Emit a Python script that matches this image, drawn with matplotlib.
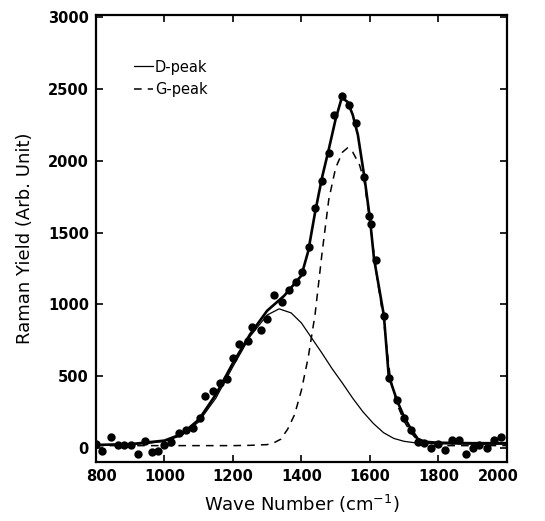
import matplotlib
matplotlib.use("Agg")
import matplotlib.pyplot as plt
from matplotlib.transforms import ScaledTranslation

# measured Raman data points
data_x = [799, 818, 843, 864, 883, 903, 922, 944, 963, 981, 1000, 1019, 1044, 1063,
          1083, 1104, 1119, 1141, 1162, 1184, 1199, 1218, 1243, 1257, 1282, 1301, 1320,
          1343, 1364, 1384, 1403, 1423, 1440, 1460, 1482, 1496, 1518, 1540, 1560, 1584,
          1597, 1604, 1619, 1641, 1656, 1679, 1700, 1721, 1740, 1758, 1779, 1798, 1818,
          1839, 1860, 1881, 1900, 1920, 1942, 1962, 1983]
data_y = [26, -19, 73, 21, 21, 16, -44, 44, -26, -19, 21, 40, 103, 126,
          138, 208, 360, 395, 454, 477, 625, 723, 746, 840, 823, 898, 1062,
          1015, 1097, 1156, 1226, 1397, 1674, 1862, 2054, 2319, 2448, 2390, 2261, 1885,
          1615, 1557, 1310, 921, 489, 330, 210, 126, 40, 33, -5, 25, -15,
          56, 56, -45, -2, 21, -2, 56, 72]

# total fit curve
fit_x = [800, 900, 1000, 1050, 1100, 1150, 1200, 1250, 1300, 1350, 1400, 1420, 1440,
         1460, 1480, 1500, 1518, 1535, 1550, 1565, 1585, 1600, 1612, 1641, 1655, 1680,
         1700, 1720, 1740, 1760, 1800, 1900, 2000]
fit_y = [20, 25, 50, 95, 195, 370, 590, 790, 955, 1060, 1200, 1370, 1640,
         1880, 2080, 2290, 2440, 2410, 2320, 2180, 1870, 1600, 1320, 920, 500, 325,
         215, 130, 62, 42, 35, 32, 32]

# D-peak component
d_x = [800, 850, 900, 950, 1000, 1050, 1100, 1150, 1200, 1250, 1300, 1335, 1370,
       1400, 1430, 1460, 1490, 1520, 1550, 1580, 1610, 1640, 1670, 1700, 1740, 1800,
       1900, 2000]
d_y = [15, 18, 22, 30, 45, 85, 180, 345, 565, 775, 925, 968, 940,
       870, 765, 660, 550, 450, 345, 250, 170, 105, 65, 45, 32, 28,
       25, 25]

# G-peak component
g_x = [800, 900, 1000, 1100, 1200, 1250, 1300, 1320, 1340, 1360, 1380, 1400, 1420,
       1440, 1460, 1480, 1500, 1520, 1535, 1550, 1570, 1584, 1600, 1620, 1640, 1660,
       1680, 1700, 1720, 1740, 1760, 1800, 1900, 2000]
g_y = [15, 15, 15, 15, 15, 17, 22, 35, 60, 130, 230, 400, 630,
       930, 1350, 1730, 1950, 2060, 2090, 2060, 1970, 1850, 1580, 1200, 890, 480,
       300, 185, 105, 50, 25, 15, 15, 15]

x_ticks = [800, 1000, 1200, 1400, 1600, 1800, 2000]
y_ticks = [0, 500, 1000, 1500, 2000, 2500, 3000]

plt.rcParams['font.family'] = ['DejaVu Sans']

fig = plt.figure(figsize=(5.45, 5.21), dpi=100)
ax = fig.add_axes([0.176, 0.113, 0.754, 0.858])

ax.plot(fit_x, fit_y, color='black', lw=1.9, zorder=3)
ax.plot(d_x, d_y, color='black', lw=0.9, zorder=2, label='D-peak')
ax.plot(g_x, g_y, color='black', lw=1.1, ls=(0, (5, 4)), zorder=2, label='G-peak')
ax.plot(data_x, data_y, 'o', color='black', ms=5, zorder=4)

ax.set_xlim(800, 2000)
ax.set_ylim(-100, 3015)
ax.set_xticks(x_ticks)
ax.set_yticks(y_ticks)
ax.tick_params(direction='in', length=5, width=1.2, top=True, right=True,
               labelsize=10.5, pad=5)
for lab in ax.get_xticklabels() + ax.get_yticklabels():
    lab.set_fontweight('bold')
for s in ax.spines.values():
    s.set_linewidth(1.6)

ticks = ax.xaxis.get_major_ticks()
ticks[0].label1.set_transform(ticks[0].label1.get_transform() +
                              ScaledTranslation(6/100, 0, fig.dpi_scale_trans))
ticks[-1].label1.set_transform(ticks[-1].label1.get_transform() +
                               ScaledTranslation(-9/100, 0, fig.dpi_scale_trans))

ax.set_xlabel('Wave Number (cm$^{-1}$)', fontsize=13, labelpad=6)
ax.set_ylabel('Raman Yield (Arb. Unit)', fontsize=13, labelpad=10)

leg = ax.legend(loc='upper left', bbox_to_anchor=(0.06, 0.93), frameon=False,
                fontsize=10.5, handlelength=1.3, handletextpad=0.15, labelspacing=0.5)

fig.savefig('out.png', dpi=100)
